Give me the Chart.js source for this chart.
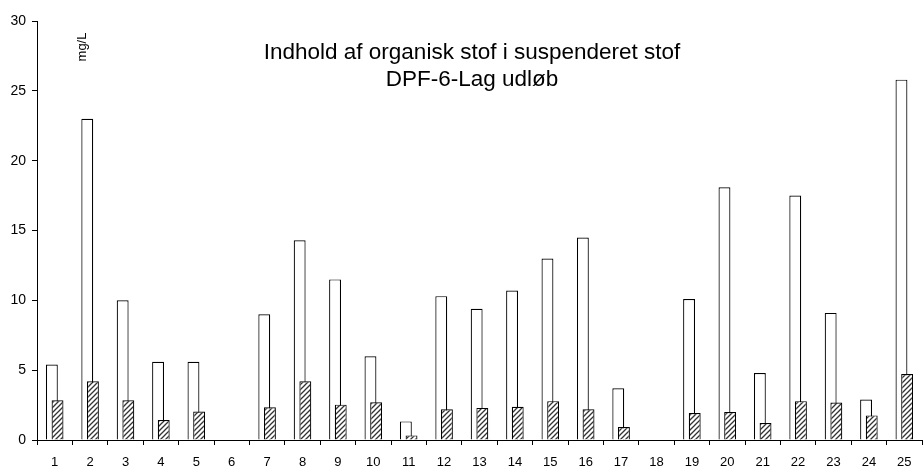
<!DOCTYPE html>
<html lang="da">
<head>
  <meta charset="UTF-8">
  <title>Indhold af organisk stof</title>
  <style>
    html, body { margin: 0; padding: 0; background: #fff; }
    #myChart { display: block; }
  </style>
</head>
<body>
  <canvas id="myChart" width="924" height="469"></canvas>
  <script src="https://cdn.jsdelivr.net/npm/chart.js@4/dist/chart.umd.min.js"></script>
  <script>
    const labels = ['1', '2', '3', '4', '5', '6', '7', '8', '9', '10', '11', '12', '13',
      '14', '15', '16', '17', '18', '19', '20', '21', '22', '23', '24', '25']
    const suspended = [5.4, 23.0, 10.0, 5.6, 5.6, null, 9.0, 14.3, 11.5, 6.0, 1.33, 10.3, 9.4,
      10.7, 13.0, 14.5, 3.7, null, 10.1, 18.1, 4.8, 17.5, 9.1, 2.9, 25.8]
    const organic = [2.85, 4.2, 2.85, 1.43, 2.04, null, 2.35, 4.2, 2.53, 2.7, 0.33, 2.2, 2.3,
      2.38, 2.78, 2.2, 0.93, null, 1.93, 2.0, 1.21, 2.78, 2.68, 1.76, 4.72]
    const titleLines = ['Indhold af organisk stof i suspenderet stof', 'DPF-6-Lag udløb']
    const unitLabel = 'mg/L'

    function hatch() {
      const c = document.createElement('canvas')
      c.width = 5
      c.height = 5
      const g = c.getContext('2d')
      g.fillStyle = '#fff'
      g.fillRect(0, 0, 5, 5)
      g.strokeStyle = '#333'
      g.lineWidth = 1.3
      g.beginPath()
      g.moveTo(-1, 6); g.lineTo(6, -1)
      g.moveTo(-1, 1); g.lineTo(1, -1)
      g.moveTo(4, 6); g.lineTo(6, 4)
      g.stroke()
      return g.createPattern(c, 'repeat')
    }

    // white bars first, hatched bars on top of them
    const drawOrder = {
      id: 'drawOrder',
      beforeDatasetsDraw(chart) {
        chart.data.datasets.forEach((ds, i) => {
          const meta = chart.getDatasetMeta(i)
          if (meta.visible) meta.controller.draw()
        })
        return false
      }
    }

    const textPlugin = {
      id: 'texts',
      afterDraw(chart) {
        const ctx = chart.ctx
        ctx.save()
        ctx.fillStyle = '#000'
        ctx.font = '22.5px "Liberation Sans", Arial, sans-serif'
        ctx.textAlign = 'center'
        ctx.textBaseline = 'middle'
        titleLines.forEach((t, i) => ctx.fillText(t, 472, 53 + i * 27))
        ctx.font = '13px "Liberation Sans", Arial, sans-serif'
        ctx.translate(82, 47)
        ctx.rotate(-Math.PI / 2)
        ctx.fillText(unitLabel, 0, 0)
        ctx.restore()
      }
    }

    Chart.defaults.font.family = '"Liberation Sans", Arial, sans-serif'
    Chart.defaults.color = '#000'

    new Chart(document.getElementById('myChart'), {
      type: 'bar',
      data: {
        labels: labels,
        datasets: [
          {
            label: 'Suspenderet stof',
            data: suspended,
            backgroundColor: '#fff',
            borderColor: '#000',
            borderWidth: 1.2
          },
          {
            label: 'Organisk stof',
            data: organic,
            backgroundColor: hatch(),
            borderColor: '#000',
            borderWidth: 1.2
          }
        ]
      },
      options: {
        responsive: false,
        animation: false,
        categoryPercentage: 0.32,
        barPercentage: 2.1,
        layout: { padding: { top: 21, right: 2, left: 0, bottom: 0 } },
        plugins: {
          legend: { display: false },
          tooltip: { enabled: false }
        },
        scales: {
          x: {
            offset: true,
            afterFit(scale) { scale.height = 29 },
            grid: { offset: true, drawOnChartArea: false, tickLength: 5, color: '#000' },
            border: { color: '#000' },
            ticks: { font: { size: 13 }, padding: 10, maxRotation: 0, autoSkip: false }
          },
          y: {
            min: 0,
            max: 30,
            afterFit(scale) { scale.width = 37 },
            grid: { drawOnChartArea: false, tickLength: 5, color: '#000' },
            border: { color: '#000' },
            ticks: { stepSize: 5, font: { size: 14 }, padding: 6 }
          }
        }
      },
      plugins: [drawOrder, textPlugin]
    })
  </script>
</body>
</html>
